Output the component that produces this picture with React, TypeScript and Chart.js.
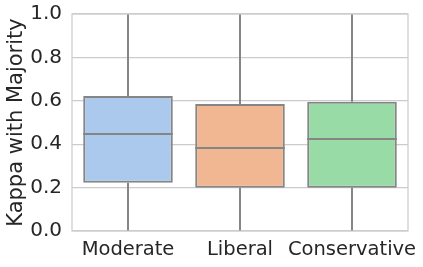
import React, { useEffect, useRef } from "react";
import { Chart, registerables } from "chart.js";

Chart.register(...registerables);

const categories = ["Moderate", "Liberal", "Conservative"];
const whiskerLow = [0.0, 0.0, 0.0];
const q1 = [0.222, 0.199, 0.199];
const median = [0.447, 0.382, 0.424];
const q3 = [0.622, 0.585, 0.596];
const whiskerHigh = [1.0, 1.0, 1.0];
const boxColors = ["#abc9ec", "#f0b792", "#98dba7"];
const yTicks = [0, 0.2, 0.4, 0.6, 0.8, 1.0];

const EDGE = "#858585";
const FONT = "'DejaVu Sans', sans-serif";

const boxPlugin = {
  id: "boxExtras",
  beforeDatasetsDraw(chart: any) {
    const { ctx, scales } = chart;
    const meta = chart.getDatasetMeta(0);
    ctx.save();
    ctx.strokeStyle = EDGE;
    ctx.lineWidth = 2;
    meta.data.forEach((bar: any, i: number) => {
      const x = Math.round(bar.x);
      ctx.beginPath();
      ctx.moveTo(x, scales.y.getPixelForValue(whiskerLow[i]));
      ctx.lineTo(x, scales.y.getPixelForValue(q1[i]));
      ctx.moveTo(x, scales.y.getPixelForValue(q3[i]));
      ctx.lineTo(x, scales.y.getPixelForValue(whiskerHigh[i]));
      ctx.stroke();
    });
    ctx.restore();
  },
  afterDatasetsDraw(chart: any) {
    const { ctx, scales, chartArea } = chart;
    const meta = chart.getDatasetMeta(0);
    ctx.save();
    ctx.strokeStyle = EDGE;
    ctx.lineWidth = 2;
    meta.data.forEach((bar: any, i: number) => {
      const half = bar.width / 2;
      const y = scales.y.getPixelForValue(median[i]);
      ctx.beginPath();
      ctx.moveTo(bar.x - half, y);
      ctx.lineTo(bar.x + half, y);
      ctx.stroke();
    });
    ctx.strokeStyle = "#cccccc";
    ctx.lineWidth = 1.25;
    ctx.strokeRect(
      chartArea.left,
      chartArea.top,
      chartArea.right - chartArea.left,
      chartArea.bottom - chartArea.top
    );
    ctx.restore();
  },
};

export default function App() {
  const ref = useRef<HTMLCanvasElement | null>(null);
  useEffect(() => {
    document.body.style.margin = "0";
    const chart = new Chart(ref.current as HTMLCanvasElement, {
      type: "bar",
      data: {
        labels: categories,
        datasets: [
          {
            data: categories.map((_, i) => [q1[i], q3[i]]) as any,
            backgroundColor: boxColors,
            borderColor: EDGE,
            borderWidth: 2,
            borderSkipped: false,
            barPercentage: 0.8,
            categoryPercentage: 1.0,
          },
        ],
      },
      options: {
        animation: false,
        responsive: false,
        layout: { padding: { top: 14, right: 15, left: 0, bottom: 0 } },
        plugins: { legend: { display: false }, tooltip: { enabled: false } },
        scales: {
          x: {
            type: "category",
            offset: true,
            grid: { display: false, drawTicks: false },
            border: { display: false },
            ticks: {
              color: "#262626",
              font: { family: FONT, size: 19.5 },
              padding: 7,
              maxRotation: 0,
              autoSkip: false,
            },
            afterFit(scale: any) {
              scale.height = 36;
              scale.paddingLeft = 0;
              scale.paddingRight = 0;
            },
          },
          y: {
            min: 0,
            max: 1,
            afterBuildTicks(scale: any) {
              scale.ticks = yTicks.map((v) => ({ value: v }));
            },
            grid: { color: "#cccccc", lineWidth: 1.25, drawTicks: false },
            border: { display: false },
            ticks: {
              color: "#262626",
              font: { family: FONT, size: 20 },
              padding: 10,
              callback: (v: any) => Number(v).toFixed(1),
            },
            title: {
              display: true,
              text: "Kappa with Majority",
              color: "#262626",
              font: { family: FONT, size: 21 },
              padding: { top: 4, bottom: 0 },
            },
            afterFit(scale: any) {
              scale.width = 72;
              scale.paddingTop = 0;
              scale.paddingBottom = 0;
            },
          },
        },
      },
      plugins: [boxPlugin],
    });
    return () => chart.destroy();
  }, []);
  return (
    <div style={{ width: 423, height: 267 }}>
      <canvas ref={ref} width={423} height={267} style={{ display: "block" }} />
    </div>
  );
}
